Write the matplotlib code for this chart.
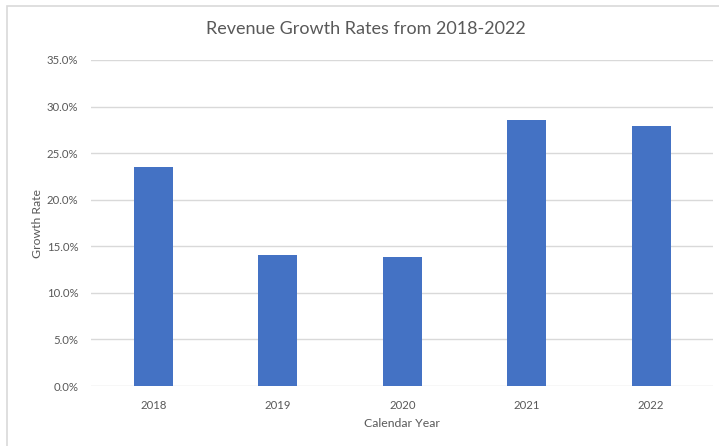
import matplotlib.pyplot as plt
from matplotlib.patches import Rectangle
from matplotlib.ticker import PercentFormatter

years = ["2018", "2019", "2020", "2021", "2022"]
growth = [0.235, 0.141, 0.138, 0.286, 0.279]

plt.rcParams['font.family'] = ['Lato', 'DejaVu Sans']

fig = plt.figure(figsize=(7.19, 4.46), dpi=100)
ax = fig.add_axes([0.1266, 0.1345, 0.8657, 0.731])

# chart frame
fig.patches.append(Rectangle((7 / 719, -0.05), 1.0, 1.05 - 6 / 446,
                             transform=fig.transFigure, fill=False,
                             edgecolor='#d9d9d9', linewidth=1.2))

ax.bar(years, growth, width=0.31, color='#4472c4', zorder=3)

ax.set_ylim(0, 0.35)
ax.set_xlim(-0.5, 4.5)
ax.set_yticks([i * 0.05 for i in range(8)])
ax.yaxis.set_major_formatter(PercentFormatter(1.0, decimals=1))
ax.grid(axis='y', color='#d9d9d9', linewidth=1, zorder=0)
for s in ax.spines.values():
    s.set_visible(False)
ax.tick_params(length=0, labelsize=8.2, colors='#595959')
ax.tick_params(axis='y', pad=9)
ax.tick_params(axis='x', pad=10)

fig.text(366 / 719, 1 - 29 / 446, 'Revenue Growth Rates from 2018-2022',
         fontsize=13, color='#595959', ha='center', va='center')
ax.set_xlabel('Calendar Year', fontsize=8.8, color='#595959', labelpad=5)
ax.set_ylabel('Growth Rate', fontsize=8.8, color='#595959', labelpad=3)

plt.savefig('out.png', dpi=100)
